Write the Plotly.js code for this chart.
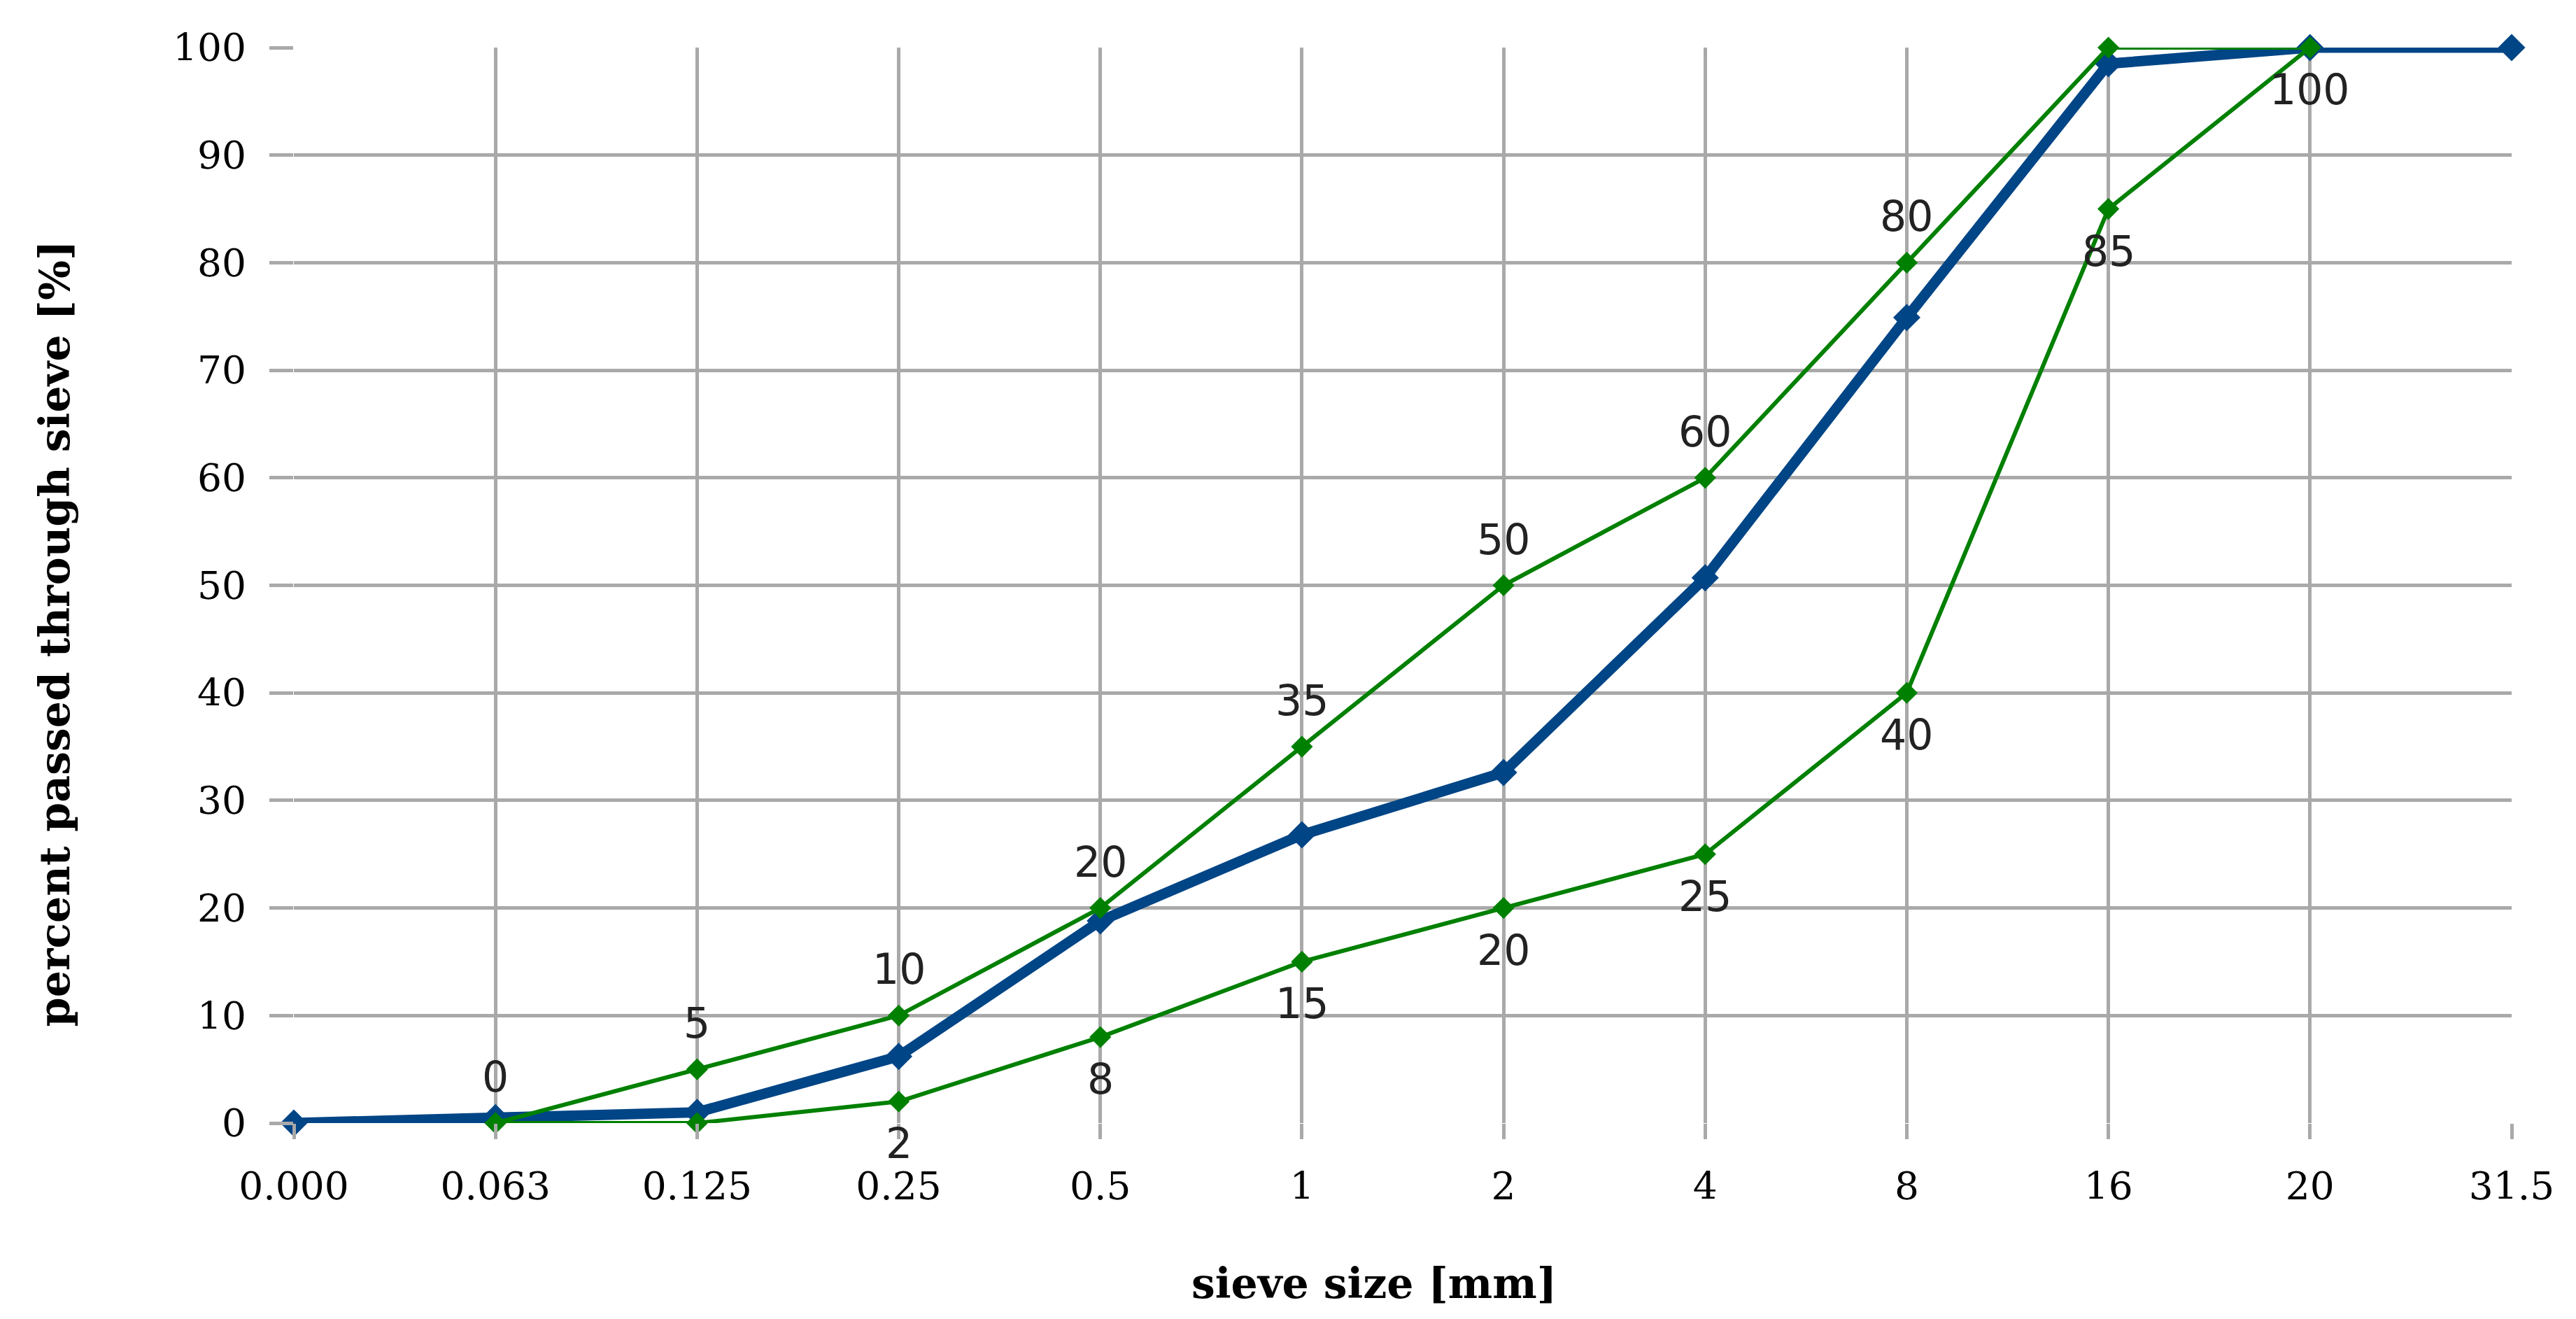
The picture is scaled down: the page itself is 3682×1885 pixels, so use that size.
<!DOCTYPE html>
<html>
<head>
<meta charset="utf-8">
<script src="https://cdn.plot.ly/plotly-3.0.1.min.js"></script>
<style>
  html, body { margin: 0; padding: 0; background: #fff; }
  #chart { width: 3682px; height: 1885px; }
</style>
</head>
<body>
<div id="chart"></div>
<script>
// sieve sizes in mm, shown as evenly spaced categories
const sieveSizes = ['0.000', '0.063', '0.125', '0.25', '0.5', '1', '2', '4', '8', '16', '20', '31.5']

// grading curve of the mixture (blue)
const mixturePassing = [0, 0.5, 1.0, 6.2, 18.8, 26.8, 32.6, 50.7, 74.9, 98.5, 100, 100]

// limit curves (green), from 0.063 to 20 mm
const limitSizes = ['0.063', '0.125', '0.25', '0.5', '1', '2', '4', '8', '16', '20']
const upperLimit = [0, 5, 10, 20, 35, 50, 60, 80, 100, 100]
const lowerLimit = [0, 0, 2, 8, 15, 20, 25, 40, 85, 100]

const yTicks = [0, 10, 20, 30, 40, 50, 60, 70, 80, 90, 100]

const blue = '#004586'
const green = '#008000'
const gridColor = '#a9a9a9'
const serif = 'DejaVu Serif'
const sans = 'DejaVu Sans'

const data = [
  {
    x: sieveSizes,
    y: mixturePassing,
    type: 'scatter',
    mode: 'lines+markers',
    line: { color: blue, width: 15 },
    marker: { symbol: 'diamond', size: 30, color: blue },
    cliponaxis: false,
    showlegend: false
  },
  {
    x: limitSizes,
    y: upperLimit,
    type: 'scatter',
    mode: 'lines+markers',
    line: { color: green, width: 6 },
    marker: { symbol: 'diamond', size: 24, color: green },
    cliponaxis: false,
    showlegend: false
  },
  {
    x: limitSizes,
    y: lowerLimit,
    type: 'scatter',
    mode: 'lines+markers',
    line: { color: green, width: 6 },
    marker: { symbol: 'diamond', size: 24, color: green },
    cliponaxis: false,
    showlegend: false
  }
]

// value labels: upper curve above its points, lower curve below
// (annotations on a category axis take the category index)
const labels = []
upperLimit.forEach((v, i) => {
  if (v < 100) {
    labels.push({ x: sieveSizes.indexOf(limitSizes[i]), y: v, text: String(v), yshift: 66 })
  }
})
lowerLimit.forEach((v, i) => {
  if (v > 0) {
    labels.push({ x: sieveSizes.indexOf(limitSizes[i]), y: v, text: String(v), yshift: -60 })
  }
})

const annotations = labels.map(l => ({
  x: l.x,
  y: l.y,
  xref: 'x',
  yref: 'y',
  text: l.text,
  showarrow: false,
  yshift: l.yshift,
  xanchor: 'center',
  yanchor: 'middle',
  font: { family: sans, size: 60, color: '#222' }
}))

annotations.push({
  text: 'percent passed through sieve [%]',
  xref: 'paper',
  yref: 'paper',
  x: -0.108,
  y: 0.455,
  textangle: -90,
  showarrow: false,
  xanchor: 'center',
  yanchor: 'middle',
  font: { family: serif, size: 60, color: '#000', weight: 'bold' }
})

annotations.push({
  text: 'sieve size [mm]',
  xref: 'paper',
  yref: 'paper',
  x: 0.487,
  y: -0.149,
  showarrow: false,
  xanchor: 'center',
  yanchor: 'middle',
  font: { family: serif, size: 60, color: '#000', weight: 'bold' }
})

const layout = {
  width: 3682,
  height: 1885,
  margin: { l: 420, r: 92, t: 68, b: 280 },
  paper_bgcolor: '#fff',
  plot_bgcolor: '#fff',
  showlegend: false,
  annotations: annotations,
  xaxis: {
    type: 'category',
    categoryorder: 'array',
    categoryarray: sieveSizes,
    range: [0, sieveSizes.length - 1],
    showgrid: true,
    gridcolor: gridColor,
    gridwidth: 5,
    zeroline: false,
    showline: false,
    ticks: 'outside',
    ticklen: 22,
    tickwidth: 5,
    tickcolor: gridColor,
    ticklabelstandoff: 20,
    tickfont: { family: serif, size: 55, color: '#000' }
  },
  yaxis: {
    range: [0, 100],
    tickvals: yTicks,
    showgrid: true,
    gridcolor: gridColor,
    gridwidth: 5,
    zeroline: false,
    showline: false,
    ticks: 'outside',
    ticklen: 34,
    tickwidth: 5,
    tickcolor: gridColor,
    ticklabelstandoff: 22,
    tickfont: { family: serif, size: 55, color: '#000' }
  }
}

Plotly.newPlot('chart', data, layout, { displayModeBar: false, staticPlot: true })
</script>
</body>
</html>
